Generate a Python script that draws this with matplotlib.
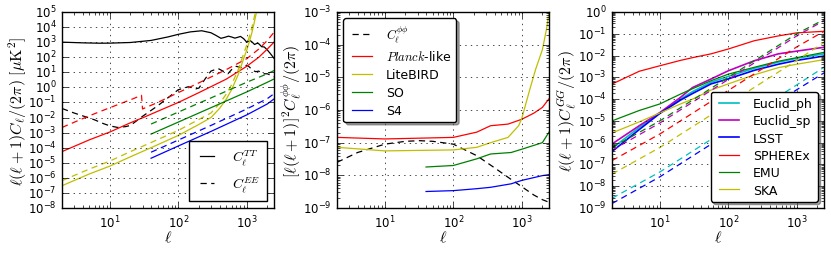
import numpy as np
import matplotlib
matplotlib.use('Agg')
import matplotlib.pyplot as plt

plt.style.use('classic')
plt.rcParams['figure.facecolor'] = 'white'
plt.rcParams['savefig.facecolor'] = 'white'
plt.rcParams['mathtext.fontset'] = 'cm'
plt.rcParams['xtick.labelsize'] = 8.5
plt.rcParams['ytick.labelsize'] = 8.5
plt.rcParams['axes.labelsize'] = 11.5
plt.rcParams['lines.linewidth'] = 0.9
plt.rcParams['lines.dashed_pattern'] = [4.5, 3.2]

# ---- panel 1: CMB TT / EE and noise ----
ell_tt = [2, 4, 7, 10, 20, 40, 70, 100, 150, 220, 300, 350, 420, 480, 540, 600, 670, 740, 810, 900,
          1000, 1070, 1130, 1200, 1300, 1420, 1500, 1650, 1800, 2000, 2200, 2500]
cl_tt = [1000, 900, 850, 860, 950, 1300, 2200, 3300, 4800, 5700, 4200, 2900, 1800, 2100, 2500, 2200,
         1850, 2100, 2400, 1700, 1000, 1150, 1250, 1000, 700, 850, 780, 500, 480, 300, 180, 85]

ell_ee = [2, 3, 4, 6, 8, 10, 13, 17, 20, 30, 50, 70, 100, 140, 180, 200, 250, 300, 380, 450,
          530, 600, 700, 850, 1000, 1100, 1200, 1350, 1500, 1700, 2000, 2500]
cl_ee = [0.04, 0.02, 0.013, 0.007, 0.004, 0.0028, 0.0022, 0.0025, 0.003, 0.012, 0.06, 0.2, 0.7,
         1.1, 0.8, 0.9, 4, 12, 18, 12, 8, 15, 25, 20, 30, 22, 14, 11, 12, 8, 8, 5]

ell_planck = [2, 5, 10, 20, 29, 30, 50, 100, 200, 500, 1000, 1500, 2000, 2500]
nl_planck_tt = [5.5e-5, 3.3e-4, 1.1e-3, 4.5e-3, 9e-3, 9.5e-3, 0.026, 0.1, 0.45, 3.5, 25, 100, 350, 1000]
nl_planck_ee = [0.0022, 0.013, 0.045, 0.15, 0.3, 0.037, 0.1, 0.45, 2, 15, 80, 350, 1300, 4500]

ell_lb = [2, 5, 10, 20, 40, 100, 200, 300, 400, 500, 600, 750, 900, 1000, 1100, 1200, 1300, 1400]
nl_lb_tt = [3e-7, 1.8e-6, 6e-6, 2.5e-5, 1e-4, 6.5e-4, 3.5e-3, 0.01, 0.04, 0.16, 0.7, 7, 80, 300,
            1200, 5000, 25000, 1.2e5]
nl_lb_ee = [6.5e-7, 3.8e-6, 1.3e-5, 5.5e-5, 2.2e-4, 1.4e-3, 7.5e-3, 0.02, 0.085, 0.35, 1.5, 15,
            170, 650, 2600, 11000, 55000, 2.6e5]

ell_ground = [40, 100, 300, 1000, 2000, 2500]
nl_so_tt = [8e-4, 5e-3, 0.045, 0.5, 2.2, 3.6]
nl_so_ee = [3.7e-3, 0.023, 0.2, 2.2, 8, 13]
nl_s4_tt = [2e-5, 1.3e-4, 1.2e-3, 0.015, 0.08, 0.17]
nl_s4_ee = [5e-5, 3.2e-4, 3e-3, 0.037, 0.18, 0.38]

# ---- panel 2: lensing potential ----
ell_pp = [2, 4, 10, 20, 32, 50, 100, 220, 400, 680, 1000, 1500, 2000, 2500]
cl_pp = [2.5e-8, 5e-8, 9e-8, 1.1e-7, 1.15e-7, 1.1e-7, 9e-8, 4e-8, 1.7e-8, 7.8e-9, 4.5e-9,
         2.5e-9, 1.8e-9, 1.5e-9]

ell_np = [2, 10, 100, 220, 350, 630, 1000, 1500, 2000, 2500]
np_planck = [1.45e-7, 1.3e-7, 1.45e-7, 2.1e-7, 3.3e-7, 3.7e-7, 5.2e-7, 8e-7, 1.2e-6, 2.2e-6]

ell_np_lb = [2, 10, 100, 220, 350, 630, 900, 1000, 1300, 1600, 2000, 2300, 2500]
np_litebird = [7.2e-8, 5.6e-8, 6e-8, 7.2e-8, 1e-7, 1.45e-7, 3.3e-7, 5.5e-7, 4e-6, 1.8e-5,
               7e-5, 3e-4, 1e-3]

ell_np_g = [40, 100, 220, 350, 700, 1000, 2000, 2500]
np_so = [1.8e-8, 2e-8, 3.2e-8, 4.5e-8, 5e-8, 6.3e-8, 1e-7, 2.1e-7]
np_s4 = [3.2e-9, 3.4e-9, 3.9e-9, 4.3e-9, 5.5e-9, 7e-9, 9.8e-9, 1.05e-8]

# ---- panel 3: galaxy surveys ----
ell_gg = [2, 5, 10, 20, 30, 56, 100, 240, 540, 1000, 2500]
gg_euclid_ph = [5.5e-7, 5e-6, 2.3e-5, 1e-4, 2.2e-4, 6e-4, 1.1e-3, 2.6e-3, 5e-3, 7.5e-3, 1.2e-2]
gg_euclid_sp = [8.7e-7, 6e-6, 2.4e-5, 1.2e-4, 3.4e-4, 8.4e-4, 2e-3, 5.8e-3, 1.2e-2, 1.6e-2, 2.4e-2]
gg_lsst = [3.9e-7, 4e-6, 2.2e-5, 9e-5, 1.8e-4, 5e-4, 8.5e-4, 2.1e-3, 4e-3, 6e-3, 9.5e-3]
gg_spherex = [4.9e-4, 1.9e-3, 3.4e-3, 6e-3, 8e-3, 1.2e-2, 2e-2, 4.8e-2, 8e-2, 1.1e-1, 1.3e-1]
gg_emu = [1e-5, 3e-5, 6e-5, 1.7e-4, 3e-4, 7e-4, 1.4e-3, 2.9e-3, 5.5e-3, 8e-3, 1.4e-2]
gg_ska = [2.8e-6, 9e-6, 2.3e-5, 6e-5, 1e-4, 2.6e-4, 5e-4, 1.3e-3, 2.8e-3, 4e-3, 6.5e-3]

ell_sn = [2, 10, 100, 1000, 2500]
sn_euclid_ph = [2.8e-9, 4.5e-8, 4.5e-6, 4.5e-4, 2.9e-3]
sn_euclid_sp = [4.5e-7, 8e-6, 8e-4, 8e-2, 0.4]
sn_lsst = [1.6e-9, 2.7e-8, 2.7e-6, 2.7e-4, 1.6e-3]
sn_spherex = [1.5e-7, 2.5e-6, 2.5e-4, 2.5e-2, 0.13]
sn_emu = [6e-7, 1e-5, 1e-3, 0.1, 0.45]
sn_ska = [3.6e-8, 6e-7, 6e-5, 6e-3, 0.04]

fig = plt.figure(figsize=(8.31, 2.55), dpi=100)
W, H = 831., 255.
ax1 = fig.add_axes([62/W, 46/H, 212/W, 196/H])
ax2 = fig.add_axes([337/W, 46/H, 212/W, 196/H])
ax3 = fig.add_axes([612/W, 46/H, 212/W, 196/H])

# panel 1
ax1.loglog(ell_tt, cl_tt, 'k-', label=r'$C_\ell^{TT}$')
ax1.loglog(ell_ee, cl_ee, 'k--', label=r'$C_\ell^{EE}$')
ax1.loglog(ell_planck, nl_planck_tt, 'r-')
ax1.loglog(ell_planck, nl_planck_ee, 'r--')
ax1.loglog(ell_lb, nl_lb_tt, 'y-')
ax1.loglog(ell_lb, nl_lb_ee, 'y--')
ax1.loglog(ell_ground, nl_so_tt, 'g-')
ax1.loglog(ell_ground, nl_so_ee, 'g--')
ax1.loglog(ell_ground, nl_s4_tt, 'b-')
ax1.loglog(ell_ground, nl_s4_ee, 'b--')
ax1.set_ylim(1e-8, 1e5)
ax1.set_ylabel(r'$\ell(\ell+1)C_\ell/(2\pi)\ [\mu{\rm K}^2]$')
ax1.legend(loc='lower right', fontsize=10, handlelength=1.6, labelspacing=0.5,
           borderpad=0.5, handletextpad=1.0)

# panel 2
ax2.loglog(ell_pp, cl_pp, 'k--', label=r'$C_\ell^{\phi\phi}$')
ax2.loglog(ell_np, np_planck, 'r-', label=r'$Planck$-like')
ax2.loglog(ell_np_lb, np_litebird, 'y-', label='LiteBIRD')
ax2.loglog(ell_np_g, np_so, 'g-', label='SO')
ax2.loglog(ell_np_g, np_s4, 'b-', label='S4')
ax2.set_ylim(1e-9, 1e-3)
ax2.set_ylabel(r'$[\ell(\ell+1)]^2C_\ell^{\phi\phi}/(2\pi)$')
ax2.legend(loc='upper left', fontsize=9, handlelength=2.2, labelspacing=0.4,
           fancybox=True, shadow=True)

# panel 3
ax3.loglog(ell_gg, gg_euclid_ph, 'c-', lw=1.2, label='Euclid_ph')
ax3.loglog(ell_gg, gg_euclid_sp, 'm-', lw=1.2, label='Euclid_sp')
ax3.loglog(ell_gg, gg_lsst, 'b-', lw=1.2, label='LSST')
ax3.loglog(ell_gg, gg_spherex, 'r-', label='SPHEREx')
ax3.loglog(ell_gg, gg_emu, 'g-', label='EMU')
ax3.loglog(ell_gg, gg_ska, 'y-', label='SKA')
ax3.loglog(ell_sn, sn_euclid_ph, 'c--')
ax3.loglog(ell_sn, sn_euclid_sp, 'm--')
ax3.loglog(ell_sn, sn_lsst, 'b--')
ax3.loglog(ell_sn, sn_spherex, 'r--')
ax3.loglog(ell_sn, sn_emu, 'g--')
ax3.loglog(ell_sn, sn_ska, 'y--')
ax3.set_ylim(1e-9, 1e0)
ax3.set_ylabel(r'$\ell(\ell+1)C_\ell^{GG}/(2\pi)$')
ax3.legend(loc='lower right', fontsize=9, handlelength=2.2, labelspacing=0.35,
           fancybox=True, shadow=True)

for ax in (ax1, ax2, ax3):
    ax.set_xlim(2, 2500)
    ax.set_xlabel(r'$\ell$', labelpad=-1)
    ax.grid(True, color='k', linestyle=':', linewidth=0.5)
    ax.yaxis.labelpad = -1

fig.savefig('out.png', dpi=100)
